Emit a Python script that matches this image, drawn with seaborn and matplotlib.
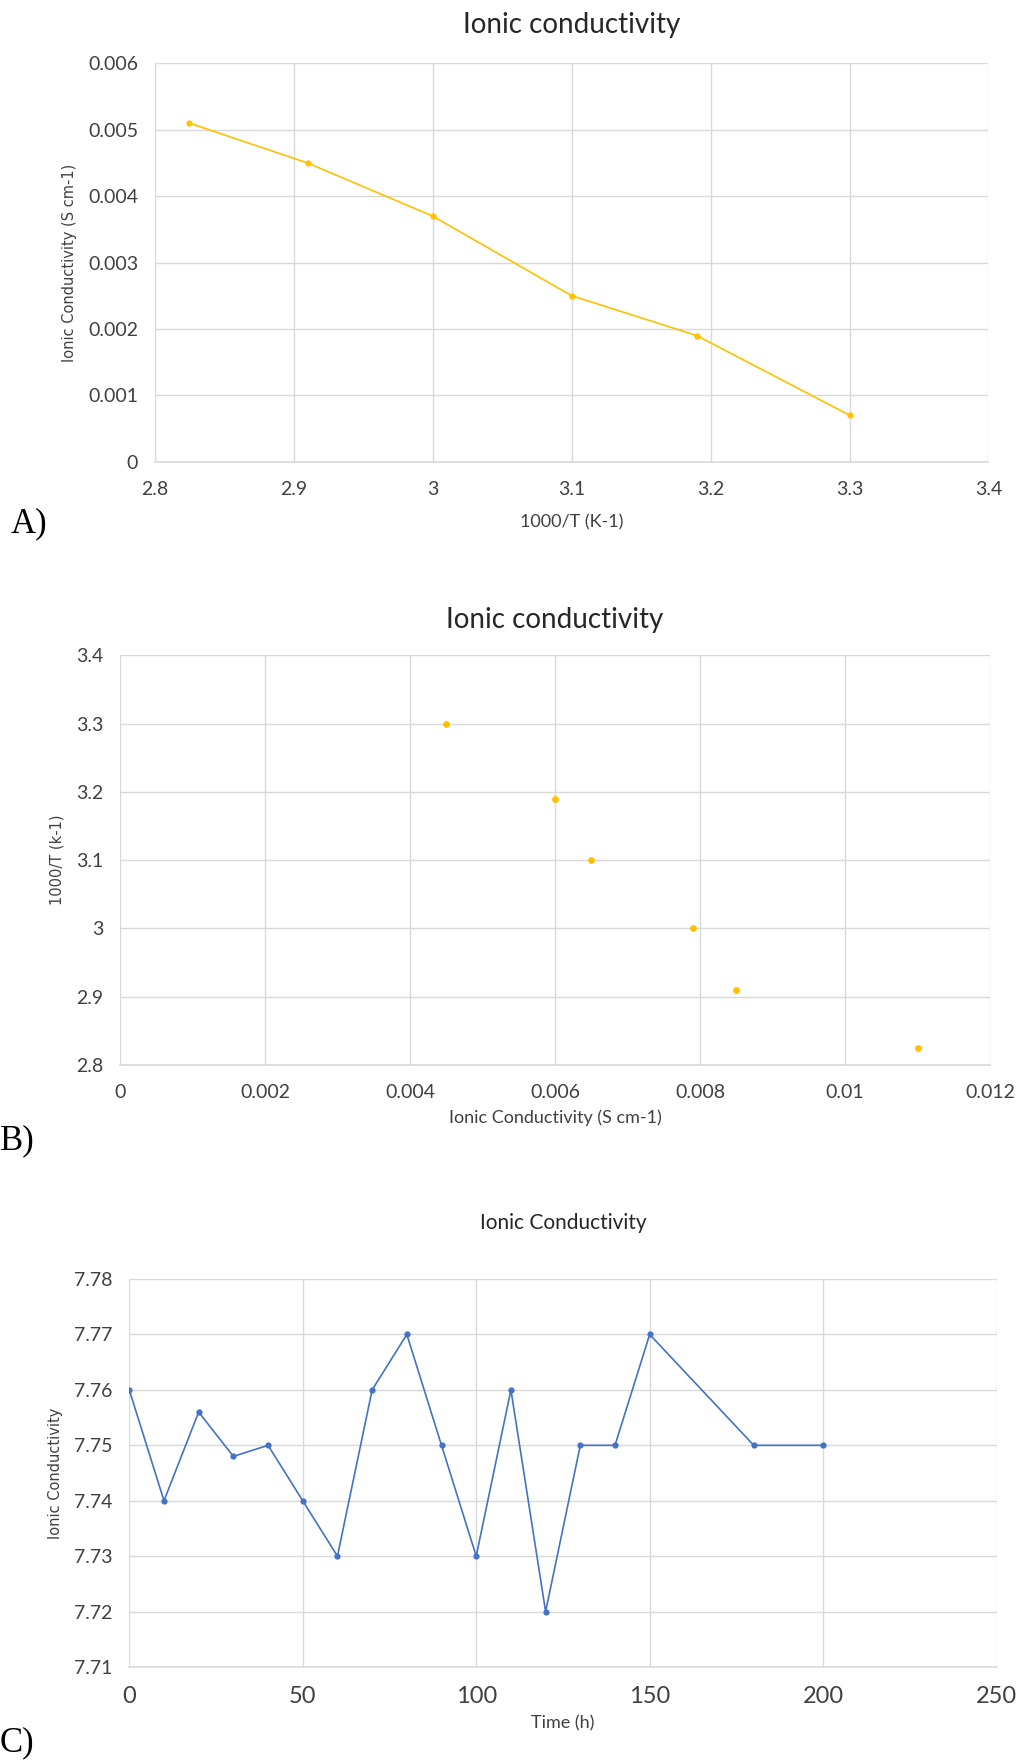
import matplotlib
matplotlib.use("Agg")
import matplotlib.pyplot as plt
import seaborn as sns

# panel A: conductivity vs 1000/T
a_inv_t = [2.825, 2.91, 3.0, 3.1, 3.19, 3.3]
a_sigma = [0.0051, 0.0045, 0.0037, 0.0025, 0.0019, 0.0007]

# panel B: 1000/T vs conductivity
b_sigma = [0.0045, 0.006, 0.0065, 0.0079, 0.0085, 0.011]
b_inv_t = [3.3, 3.19, 3.1, 3.0, 2.91, 2.825]

# panel C: conductivity over time
c_time = [0, 10, 20, 30, 40, 50, 60, 70, 80, 90, 100, 110, 120, 130, 140, 150, 180, 200]
c_sigma = [7.76, 7.74, 7.756, 7.748, 7.75, 7.74, 7.73, 7.76, 7.77, 7.75,
           7.73, 7.76, 7.72, 7.75, 7.75, 7.77, 7.75, 7.75]

sns.set_theme(style="whitegrid")
NARROW = ["Lato", "DejaVu Sans"]
plt.rcParams["font.family"] = NARROW

GOLD = "#FFC000"
BLUE = "#4472C4"
GRID = "#D9D9D9"


def style_axes(ax, tick_size=14):
    ax.set_facecolor("white")
    ax.grid(True, color=GRID, linewidth=1)
    for side in ("top", "right", "left"):
        ax.spines[side].set_visible(False)
    ax.spines["bottom"].set_visible(True)
    ax.spines["bottom"].set_color(GRID)
    ax.spines["bottom"].set_linewidth(1.2)
    ax.tick_params(axis="x", length=0, labelsize=tick_size, colors="#404040", pad=14)
    ax.tick_params(axis="y", length=0, labelsize=tick_size, colors="#404040", pad=12)
    for lab in ax.get_xticklabels() + ax.get_yticklabels():
        lab.set_family(NARROW)


def fmt_num(v):
    s = f"{v:.3f}".rstrip("0").rstrip(".")
    return s


fig = plt.figure(figsize=(10.18, 17.62), dpi=100)

# ---- A ----
ax_a = fig.add_axes([0.152, 0.738, 0.819, 0.226])
sns.lineplot(x=a_inv_t, y=a_sigma, ax=ax_a, color=GOLD, linewidth=1.2,
             marker="o", markersize=4.5, markeredgewidth=0)
ax_a.set_xlim(2.8, 3.4)
ax_a.set_ylim(0, 0.006)
ax_a.set_xticks([2.8, 2.9, 3.0, 3.1, 3.2, 3.3, 3.4])
ax_a.set_xticklabels([fmt_num(v) for v in ax_a.get_xticks()])
ax_a.set_yticks([0, 0.001, 0.002, 0.003, 0.004, 0.005, 0.006])
ax_a.set_yticklabels([fmt_num(v) for v in ax_a.get_yticks()])
style_axes(ax_a)
ax_a.set_title("Ionic conductivity", fontsize=20, color="#262626", pad=22, family=NARROW)
ax_a.set_xlabel("1000/T (K-1)", fontsize=13, color="#404040", family=NARROW, labelpad=12)
ax_a.set_ylabel("Ionic Conductivity (S cm-1)", fontsize=10.5, color="#404040",
                family="DejaVu Sans", labelpad=8)
fig.text(0.01, 0.698, "A)", fontsize=25, family="Liberation Serif", color="black")

# ---- B ----
ax_b = fig.add_axes([0.118, 0.3956, 0.8545, 0.2324])
sns.scatterplot(x=b_sigma, y=b_inv_t, ax=ax_b, color=GOLD, s=24, linewidth=0)
ax_b.set_xlim(0, 0.012)
ax_b.set_ylim(2.8, 3.4)
ax_b.set_xticks([0, 0.002, 0.004, 0.006, 0.008, 0.01, 0.012])
ax_b.set_xticklabels([fmt_num(v) for v in ax_b.get_xticks()])
ax_b.set_yticks([2.8, 2.9, 3.0, 3.1, 3.2, 3.3, 3.4])
ax_b.set_yticklabels([fmt_num(v) for v in ax_b.get_yticks()])
style_axes(ax_b)
ax_b.set_title("Ionic conductivity", fontsize=20, color="#262626", pad=20, family=NARROW)
ax_b.set_xlabel("Ionic Conductivity (S cm-1)", fontsize=13, color="#404040",
                family=NARROW, labelpad=6)
ax_b.set_ylabel("1000/T (k-1)", fontsize=10.5, color="#404040",
                family="DejaVu Sans", labelpad=8)
fig.text(0.0, 0.348, "B)", fontsize=25, family="Liberation Serif", color="black")

# ---- C ----
ax_c = fig.add_axes([0.127, 0.0539, 0.852, 0.2202])
sns.lineplot(x=c_time, y=c_sigma, ax=ax_c, color=BLUE, linewidth=1.2,
             marker="o", markersize=4.5, markeredgewidth=0)
ax_c.set_xlim(0, 250)
ax_c.set_ylim(7.71, 7.78)
ax_c.set_xticks([0, 50, 100, 150, 200, 250])
ax_c.set_xticklabels([str(v) for v in [0, 50, 100, 150, 200, 250]])
ax_c.set_yticks([7.71, 7.72, 7.73, 7.74, 7.75, 7.76, 7.77, 7.78])
ax_c.set_yticklabels([f"{v:.2f}" for v in ax_c.get_yticks()])
style_axes(ax_c)
ax_c.tick_params(axis="x", labelsize=17)
ax_c.set_title("Ionic Conductivity", fontsize=15, color="#262626", pad=36, family=NARROW)
ax_c.set_xlabel("Time (h)", fontsize=13, color="#404040", family=NARROW, labelpad=6)
ax_c.set_ylabel("Ionic Conductivity", fontsize=10.5, color="#404040",
                family="DejaVu Sans", labelpad=8)
fig.text(0.0, 0.006, "C)", fontsize=25, family="Liberation Serif", color="black")

fig.savefig("out.png", dpi=100)
